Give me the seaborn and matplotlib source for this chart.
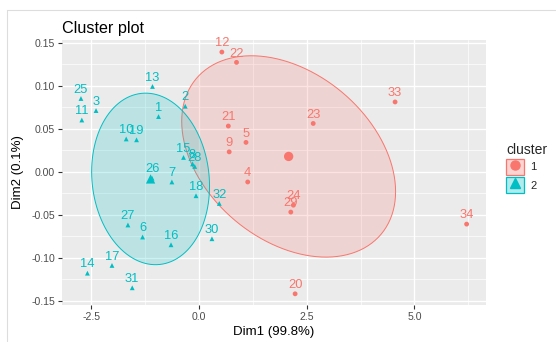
import matplotlib

matplotlib.use("Agg")
import matplotlib.pyplot as plt
from matplotlib.colors import to_rgba
from matplotlib.legend_handler import HandlerTuple
from matplotlib.lines import Line2D
from matplotlib.patches import Patch, Polygon
import numpy as np
import pandas as pd
import seaborn as sns

# cluster 1 (red circles)
labels_1 = ["12", "22", "21", "5", "9", "4", "23", "33", "24", "29", "34", "20"]
dim1_1 = [0.53, 0.87, 0.68, 1.09, 0.70, 1.13, 2.65, 4.55, 2.19, 2.13, 6.21, 2.23]
dim2_1 = [0.139, 0.127, 0.053, 0.034, 0.023, -0.012, 0.056, 0.081, -0.039, -0.047, -0.061, -0.142]

# cluster 2 (teal triangles)
labels_2 = ["25", "3", "11", "13", "1", "2", "10", "19", "15", "8", "28", "26",
            "7", "18", "32", "27", "6", "16", "30", "14", "17", "31"]
dim1_2 = [-2.74, -2.39, -2.72, -1.08, -0.94, -0.32, -1.69, -1.45, -0.36, -0.15, -0.10, -1.09,
          -0.63, -0.07, 0.47, -1.65, -1.31, -0.65, 0.30, -2.59, -2.02, -1.55]
dim2_2 = [0.085, 0.071, 0.060, 0.099, 0.064, 0.076, 0.038, 0.037, 0.0165, 0.009, 0.006, -0.0076,
          -0.012, -0.028, -0.037, -0.062, -0.076, -0.085, -0.078, -0.118, -0.109, -0.135]

x_ticks = [-2.5, 0.0, 2.5, 5.0]
x_tick_labels = ["-2.5", "0.0", "2.5", "5.0"]
y_ticks = [-0.15, -0.10, -0.05, 0.00, 0.05, 0.10, 0.15]
y_tick_labels = ["-0.15", "-0.10", "-0.05", "0.00", "0.05", "0.10", "0.15"]

# scale of the normal ellipses, in standard deviations
ellipse_radius = {"1": 1.43, "2": 1.4}

colors = {"1": "#F8766D", "2": "#00BFC4"}
markers = {"1": "o", "2": "^"}

points = pd.concat(
    [
        pd.DataFrame({"label": labels_1, "dim1": dim1_1, "dim2": dim2_1, "cluster": "1"}),
        pd.DataFrame({"label": labels_2, "dim1": dim1_2, "dim2": dim2_2, "cluster": "2"}),
    ],
    ignore_index=True,
)
centers = points.groupby("cluster", as_index=False)[["dim1", "dim2"]].mean()


def _norm_ellipse(frame: pd.DataFrame, radius: float, segments: int = 121) -> np.ndarray:
    xy = frame[["dim1", "dim2"]].to_numpy()
    center = xy.mean(axis=0)
    chol = np.linalg.cholesky(np.cov(xy, rowvar=False)).T
    angles = np.linspace(0, 2 * np.pi, segments)
    circle = np.column_stack([np.cos(angles), np.sin(angles)])
    return center + radius * circle @ chol


sns.set_theme(style="darkgrid")
plt.rcParams["font.family"] = ["Liberation Sans", "DejaVu Sans"]

fig = plt.figure(figsize=(5.56, 3.42), dpi=100)
ax = fig.add_axes([62 / 556, 1 - 305 / 342, (486 - 62) / 556, (305 - 40) / 342])
ax.set_facecolor("#EBEBEB")

for cluster, group in points.groupby("cluster"):
    outline = _norm_ellipse(group, ellipse_radius[cluster])
    ax.add_patch(Polygon(outline, closed=True, facecolor=colors[cluster], alpha=0.2, edgecolor="none", zorder=2))
    ax.add_patch(Polygon(outline, closed=True, facecolor="none", edgecolor=colors[cluster], linewidth=0.7, zorder=2))

sns.scatterplot(
    data=points, x="dim1", y="dim2", hue="cluster", style="cluster",
    palette=colors, markers=markers, s=12, linewidth=0, legend=False, ax=ax, zorder=3,
)
sns.scatterplot(
    data=centers, x="dim1", y="dim2", hue="cluster", style="cluster",
    palette=colors, markers=markers, s=45, linewidth=0, legend=False, ax=ax, zorder=3,
)

for row in points.itertuples():
    text = ax.annotate(
        row.label, (row.dim1, row.dim2), xytext=(0, 2), textcoords="offset points",
        ha="center", va="bottom", color=colors[row.cluster], fontsize=9.3, zorder=4,
    )
    text.set_clip_on(True)

ax.set_xlim(-3.18, 6.66)
ax.set_ylim(-0.155, 0.153)
ax.set_xticks(x_ticks)
ax.set_xticklabels(x_tick_labels)
ax.set_yticks(y_ticks)
ax.set_yticklabels(y_tick_labels)
ax.set_xticks([-1.25, 1.25, 3.75, 6.25], minor=True)
ax.set_yticks([-0.125, -0.075, -0.025, 0.025, 0.075, 0.125], minor=True)
ax.grid(which="major", color="white", linewidth=1.0)
ax.grid(which="minor", color="white", linewidth=0.5)
ax.tick_params(which="major", length=3, width=0.8, color="#333333", labelsize=7.6,
               labelcolor="#4D4D4D", pad=2, bottom=True, left=True)
ax.tick_params(which="minor", length=0)
for spine in ax.spines.values():
    spine.set_visible(False)

ax.set_xlabel("Dim1 (99.8%)", fontsize=9.5, color="black", labelpad=3)
ax.set_ylabel("Dim2 (0.1%)", fontsize=9.5, color="black", labelpad=5)
ax.set_title("Cluster plot", fontsize=11.6, loc="left", color="black", pad=5)

handles = [
    (Patch(facecolor=to_rgba(colors[c], 0.3), edgecolor=colors[c], linewidth=0.9),
     Line2D([], [], marker=markers[c], color=colors[c], linestyle="None", markersize=6.5))
    for c in ["1", "2"]
]
fig.legend(
    handles, ["1", "2"], title="cluster", handler_map={tuple: HandlerTuple(ndivide=1)},
    loc="upper left", bbox_to_anchor=(496 / 556, 1 - 133 / 342), frameon=False,
    fontsize=8, title_fontsize=10, handlelength=1.6, handleheight=1.9,
    labelspacing=0.15, handletextpad=0.6, alignment="left",
)

# faint frame of the original screenshot
fig.add_artist(Line2D([7 / 556, 1], [1 - 10 / 342, 1 - 10 / 342], color="#DDDDDD", linewidth=0.8))
fig.add_artist(Line2D([7 / 556, 7 / 556], [0, 1 - 10 / 342], color="#DDDDDD", linewidth=0.8))

fig.savefig("out.png", dpi=100, facecolor="white")
